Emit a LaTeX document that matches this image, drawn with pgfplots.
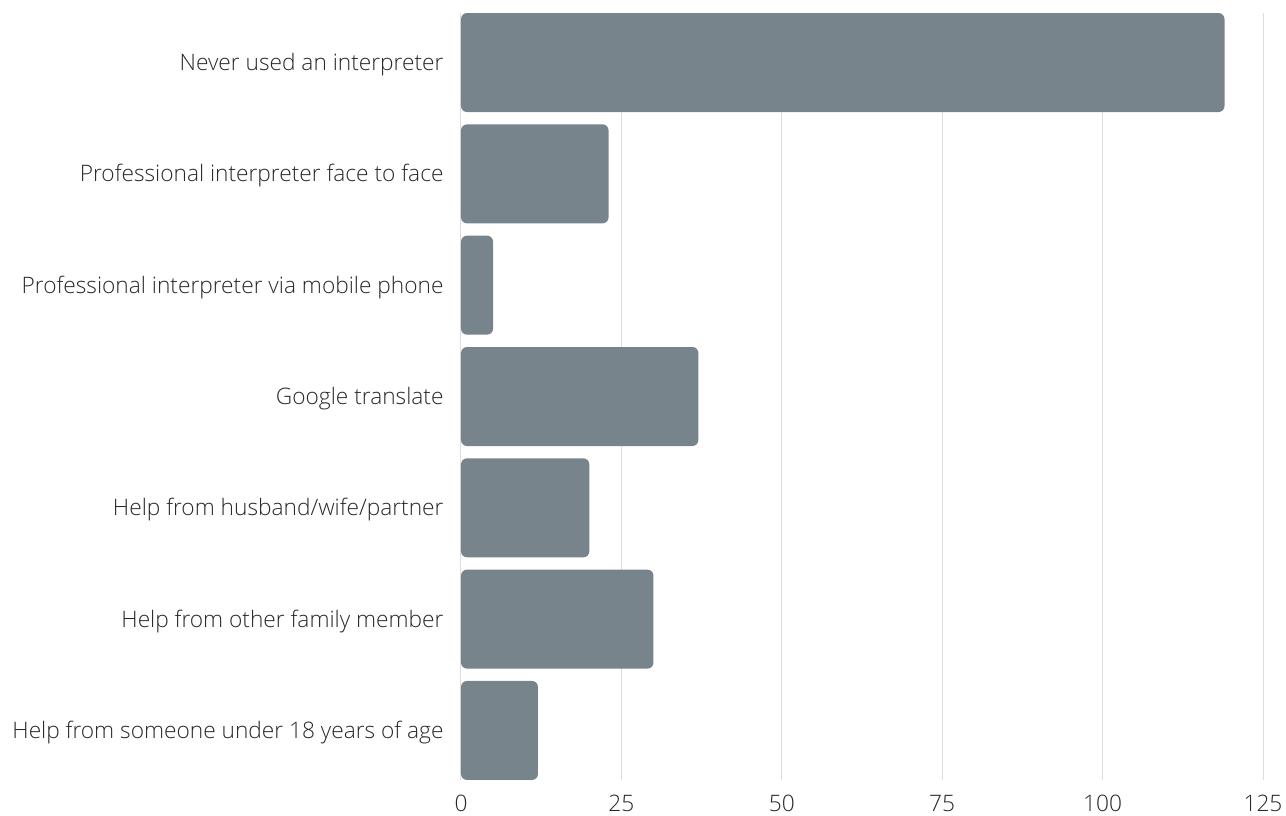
\documentclass[border=0pt]{standalone}
\usepackage{fontspec}
\setmainfont{Open Sans Light}
\usepackage{pgfplots}
\pgfplotsset{compat=1.18}
\definecolor{barc}{RGB}{120,132,140}
\definecolor{gridc}{RGB}{222,222,222}
\definecolor{txt}{RGB}{40,40,40}
\begin{document}
\begin{tikzpicture}[x=1pt,y=1pt]
\path[use as bounding box] (0,0) rectangle (1286,816);
\begin{axis}[
 at={(461pt,36pt)}, anchor=south west,
 scale only axis, width=802pt, height=767pt,
 xbar, bar width=99pt,
 xmin=0, xmax=125, ymin=-0.445, ymax=6.445,
 y dir=reverse,
 ytick={0,...,6},
 yticklabels={Never used an interpreter,Professional interpreter face to face,Professional interpreter via mobile phone,Google translate,Help from husband/wife/partner,Help from other family member,Help from someone under 18 years of age},
 xtick={0,25,...,125},
 xmajorgrids, grid style={gridc, line width=1pt},
 axis line style={draw=none},
 major tick length=0pt,
 tick label style={font=\fontsize{22.7}{27}\selectfont, text=txt},
 yticklabel style={xshift=-14pt, yshift=-2pt},
 xticklabel style={yshift=-12pt},
 /pgf/number format/assume math mode=true,
 clip=false,
]
\addplot[fill=barc, draw=none, rounded corners=6pt] coordinates {(119,0) (23,1) (5,2) (37,3) (20,4) (30,5) (12,6)};
\end{axis}
\end{tikzpicture}
\end{document}
